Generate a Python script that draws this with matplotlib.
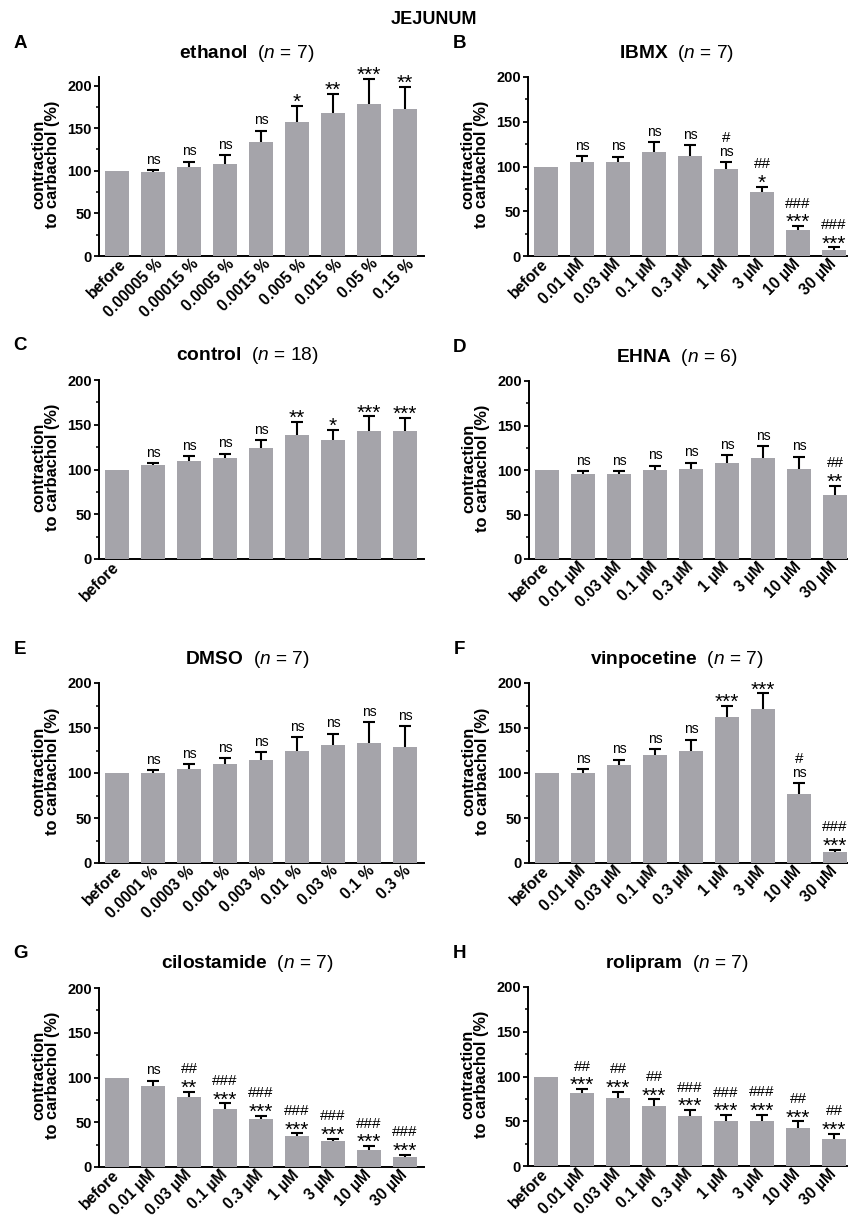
import matplotlib
matplotlib.use("Agg")
import matplotlib.pyplot as plt
import matplotlib.transforms as mtransforms
from matplotlib.ticker import MultipleLocator
import numpy as np

plt.rcParams['font.family'] = ['Liberation Sans', 'DejaVu Sans']
plt.rcParams['mathtext.fontset'] = 'custom'
plt.rcParams['mathtext.rm'] = 'Liberation Sans'
plt.rcParams['mathtext.bf'] = 'Liberation Sans:bold'
plt.rcParams['mathtext.it'] = 'Liberation Sans:italic'

# tick labels
ethanol_doses = ["before", "0.00005 %", "0.00015 %", "0.0005 %", "0.0015 %",
                 "0.005 %", "0.015 %", "0.05 %", "0.15 %"]
dmso_doses = ["before", "0.0001 %", "0.0003 %", "0.001 %", "0.003 %",
              "0.01 %", "0.03 %", "0.1 %", "0.3 %"]
um_doses = ["before", "0.01 µM", "0.03 µM", "0.1 µM", "0.3 µM",
            "1 µM", "3 µM", "10 µM", "30 µM"]
control_doses = ["before", "", "", "", "", "", "", "", ""]

# values (mean, SEM) and significance marks
ethanol_mean = [100, 98, 105, 108, 134, 157, 168, 178.5, 173]
ethanol_sem = [0, 3, 5.5, 10.5, 13, 19, 22.5, 29, 25.5]
ethanol_sig = ["", "ns", "ns", "ns", "ns", "*", "**", "***", "**"]

ibmx_mean = [100, 105, 105, 116, 111.5, 97, 71, 28.5, 7]
ibmx_sem = [0, 6.5, 6, 11, 12, 8, 6.5, 5, 2.5]
ibmx_sig = ["", "ns", "ns", "ns", "ns", "#\nns", "##\n*", "###\n***", "###\n***"]

control_mean = [100, 104.5, 110, 112.5, 124.5, 138, 133.5, 143.5, 143.5]
control_sem = [0, 2.5, 5, 5, 8.5, 15, 11, 16, 14]
control_sig = ["", "ns", "ns", "ns", "ns", "**", "*", "***", "***"]

ehna_mean = [100, 95, 96, 100, 101, 108, 113, 101, 72]
ehna_sem = [0, 3.5, 3, 5, 7, 8.5, 14, 14, 10.5]
ehna_sig = ["", "ns", "ns", "ns", "ns", "ns", "ns", "ns", "##\n**"]

dmso_mean = [100, 100, 105, 110, 115, 125, 131.5, 133.5, 128.5]
dmso_sem = [0, 3, 5, 6.5, 8, 15, 12, 23, 23.5]
dmso_sig = ["", "ns", "ns", "ns", "ns", "ns", "ns", "ns", "ns"]

vinpo_mean = [100, 99.5, 109, 119.5, 124.5, 162, 171.5, 77, 12]
vinpo_sem = [0, 4.5, 6, 7, 12.5, 12.5, 17, 11.5, 3]
vinpo_sig = ["", "ns", "ns", "ns", "ns", "***", "***", "#\nns", "###\n***"]

cilo_mean = [100, 90, 78, 65, 53.5, 34.5, 28.5, 19.5, 11]
cilo_sem = [0, 6.5, 6, 6, 4, 3, 3, 4, 2.5]
cilo_sig = ["", "ns", "##\n**", "###\n***", "###\n***", "###\n***",
            "###\n***", "###\n***", "###\n***"]

roli_mean = [100, 81.5, 76.5, 67.5, 56, 50, 50.5, 43, 30.5]
roli_sem = [0, 4.5, 6.5, 7, 6.5, 7, 7, 7, 5.5]
roli_sig = ["", "##\n***", "##\n***", "##\n***", "###\n***", "###\n***",
            "###\n***", "##\n***", "##\n***"]

W, H = 848, 1217
fig = plt.figure(figsize=(W / 100, H / 100), dpi=100)
PX = 72 / 100  # points per pixel

BAR_COLOR = '#a5a4aa'


def sig_font(line):
    # size in pt, glyph centre above baseline in em
    if line.startswith('#'):
        return 11, 0.35
    if line.startswith('*'):
        return 15, 0.58
    return 10, 0.26


def panel(box, letter, name, n, labels, mean, sem, sig, ytop=200, label_dx=0):
    left, right, top, bottom = box
    ax = fig.add_axes([left / W, 1 - bottom / H, (right - left) / W, (bottom - top) / H])
    x = np.arange(len(mean))
    ax.bar(x, mean, width=0.65, color=BAR_COLOR, edgecolor='none', zorder=3)
    ax.errorbar(x[1:], mean[1:], yerr=sem[1:], fmt='none', ecolor='black',
                elinewidth=1.5, capsize=4.6, capthick=1.5, zorder=2)
    ax.set_ylim(0, ytop)
    ax.set_xlim(-0.5, -0.5 + (right - left) / 36)
    ax.yaxis.set_major_locator(MultipleLocator(50))
    ax.yaxis.set_minor_locator(MultipleLocator(25))
    for s in ['top', 'right']:
        ax.spines[s].set_visible(False)
    for s in ['left', 'bottom']:
        ax.spines[s].set_linewidth(1.4)
    ax.tick_params(axis='y', which='major', length=3.8, width=1.3, pad=1.5,
                   labelsize=10.5)
    ax.tick_params(axis='y', which='minor', length=2.2, width=1.1)
    for t in ax.get_yticklabels():
        t.set_fontweight('bold')
    ax.tick_params(axis='x', length=0, pad=4)
    ax.set_xticks(x)
    ax.set_xticklabels(labels, rotation=45, ha='right', va='center',
                       rotation_mode='anchor', fontsize=11.3, fontweight='bold')
    if label_dx:
        shift = mtransforms.ScaledTranslation(label_dx / 100, 0, fig.dpi_scale_trans)
        for t in ax.get_xticklabels():
            t.set_transform(t.get_transform() + shift)

    # significance marks, drawn bottom line first
    for i, s in enumerate(sig):
        if not s:
            continue
        lines = s.split('\n')[::-1]
        step = 15.5 if lines[0] == 'ns' else 13.8
        for k, line in enumerate(lines):
            size, cem = sig_font(line)
            off = (10 + step * k) * PX - cem * size
            ax.annotate(line, (x[i], mean[i] + sem[i]), xytext=(0, off),
                        textcoords='offset points', ha='center', va='baseline',
                        fontsize=size, annotation_clip=False)

    # panel letter, title, y label
    lx = 20 if left < 200 else 459
    fig.text(lx / W, 1 - (top - 34) / H, letter, fontsize=13.5, fontweight='bold',
             ha='center', va='center')
    tx = 247 if left < 200 else 677
    fig.text(tx / W, 1 - (top - 24) / H,
             r'$\mathbf{' + name + r'}$  ($\mathit{n}$ = ' + str(n) + ')',
             fontsize=13.8, ha='center', va='center')
    fig.text((left - 53) / W, 1 - ((top + bottom) / 2 - 2) / H,
             "contraction\nto carbachol (%)", rotation=90, fontsize=11.8,
             fontweight='bold', ha='center', va='center', multialignment='center',
             linespacing=0.9)
    return ax


panel((99, 424, 77, 256), 'A', 'ethanol', 7, ethanol_doses,
      ethanol_mean, ethanol_sem, ethanol_sig, ytop=210, label_dx=7)
panel((528, 848, 77, 256), 'B', 'IBMX', 7, um_doses, ibmx_mean, ibmx_sem, ibmx_sig)
panel((99, 424, 380, 559), 'C', 'control', 18, control_doses,
      control_mean, control_sem, control_sig)
panel((529, 848, 381, 559), 'D', 'EHNA', 6, um_doses, ehna_mean, ehna_sem, ehna_sig)
panel((99, 424, 683, 863), 'E', 'DMSO', 7, dmso_doses, dmso_mean, dmso_sem, dmso_sig,
      label_dx=3)
panel((529, 848, 683, 863), 'F', 'vinpocetine', 7, um_doses,
      vinpo_mean, vinpo_sem, vinpo_sig)
panel((99, 424, 988, 1167), 'G', 'cilostamide', 7, um_doses,
      cilo_mean, cilo_sem, cilo_sig)
panel((528, 848, 987, 1166), 'H', 'rolipram', 7, um_doses,
      roli_mean, roli_sem, roli_sig)

fig.text(434 / W, 1 - 19 / H, "JEJUNUM", fontsize=13, fontweight='bold',
         ha='center', va='center')

fig.savefig("out.png", dpi=100)
